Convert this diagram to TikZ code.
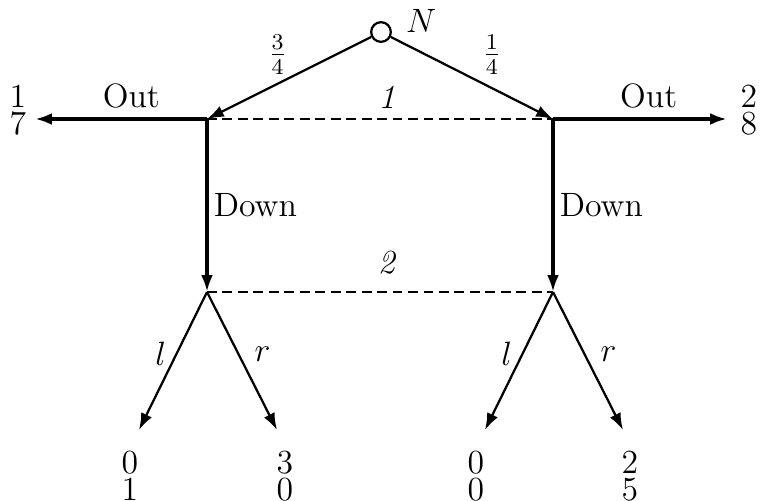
\documentclass[tikz,border=0pt]{standalone}
\usepackage{amsmath}
\usetikzlibrary{arrows.meta}

\begin{document}
\begin{tikzpicture}[x=0.0125cm, y=-0.0125cm,
	every node/.style={font=\large},
	move/.style={-{Latex[length=6pt,width=4.2pt]}, thick},
	stem/.style={-{Latex[length=6pt,width=4.2pt]}, very thick},
	info/.style={thick, dash pattern=on 3.5pt off 2pt},
	pay/.style={align=center, inner sep=0pt}]
	\useasboundingbox (0,0) rectangle (760,500);
	% chance move and the decision points
	\node[circle, draw, thick, minimum size=7pt, inner sep=0pt] (N) at (381,32) {};
	\node (Nlab) at (421,21) {$N$};
	\coordinate (A) at (207,119);
	\coordinate (B) at (553,119);
	\coordinate (C) at (207,292);
	\coordinate (D) at (553,292);
	\coordinate (outL) at (35,119);
	\coordinate (outR) at (727,119);
	\coordinate (Cl) at (139,430);
	\coordinate (Cr) at (277,430);
	\coordinate (Dl) at (485,430);
	\coordinate (Dr) at (623,430);
	\draw[move] (N) -- (A) node[midway, above left, xshift=3pt, yshift=-2.5pt] {$\frac{3}{4}$};
	\draw[move] (N) -- (B) node[midway, above right, yshift=-2.5pt] {$\frac{1}{4}$};
	% player 1
	\draw[info] (A) -- (B) node[pos=0.52, above] {\textit{1}};
	\draw[stem] (A) -- (outL) node[pos=0.44, above] {Out};
	\draw[stem] (B) -- (outR) node[pos=0.55, above] {Out};
	\draw[stem] (A) -- (C) node[midway, right=-1.5pt] {Down};
	\draw[stem] (B) -- (D) node[midway, right=-1.5pt] {Down};
	% player 2
	\draw[info] (C) -- (D) node[pos=0.52, above=2.5pt] {\textit{2}};
	\draw[move] (C) -- (Cl) node[pos=0.45, left] {$l$};
	\draw[move] (C) -- (Cr) node[pos=0.45, right=2pt] {$r$};
	\draw[move] (D) -- (Dl) node[pos=0.45, left] {$l$};
	\draw[move] (D) -- (Dr) node[pos=0.45, right=2pt] {$r$};
	% payoffs
	\node[pay] (p17) at (18,110) {1\\[-4.5pt]7};
	\node[pay] (p28) at (749,110) {2\\[-4.5pt]8};
	\node[pay] (p01) at (130,476) {0\\[-4.5pt]1};
	\node[pay] (p30) at (285,476) {3\\[-4.5pt]0};
	\node[pay] (p00) at (476,476) {0\\[-4.5pt]0};
	\node[pay] (p25) at (630,476) {2\\[-4.5pt]5};
\end{tikzpicture}
\end{document}
